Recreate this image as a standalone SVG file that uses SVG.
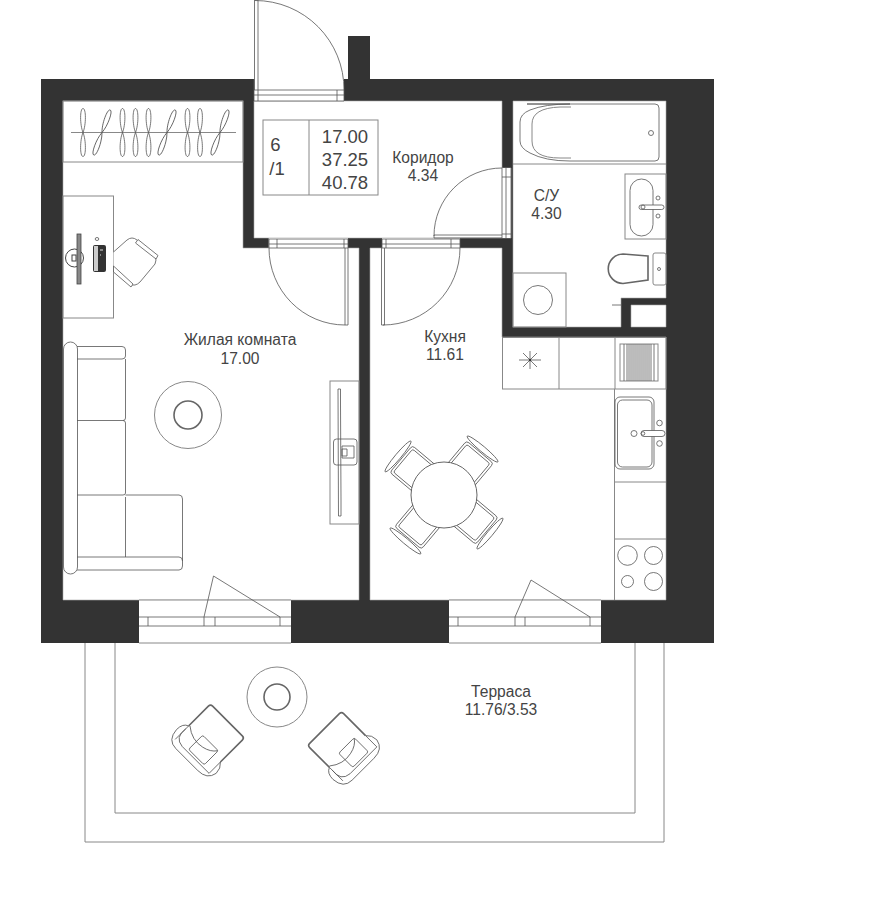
<svg xmlns="http://www.w3.org/2000/svg" width="883" height="900" viewBox="0 0 883 900">
<style>
text{font-family:"Liberation Sans",Arial,sans-serif;fill:#444;text-anchor:middle}
.l{font-size:15.6px}
.n{font-size:18.500px}
.s{fill:none;stroke:#555;stroke-width:.8}
.g{fill:none;stroke:#888;stroke-width:1}
.f{fill:#fff;stroke:#555;stroke-width:.8}
.fg{fill:#fff;stroke:#777;stroke-width:1}
.t{fill:none;stroke:#666;stroke-width:1.6}
</style>
<defs>
<g id="hanger"><path class="s" d="M0 0C-3.200-8-3.200-24 0-24C3.200-24 3.200-8 0 0C-3.200 8-3.200 24 0 24C3.200 24 3.200 8 0 0Z"/></g>
<g id="dchair">
<ellipse class="f" cx="0" cy="-60" rx="20" ry="2.800"/>
<rect class="f" x="-17.500" y="-56" width="35" height="34" rx="3"/>
<rect class="f" x="-15" y="-53.500" width="30" height="32" rx="2"/>
</g>
<g id="tchair">
<path class="s" d="M-24 7Q-30 9-30 18Q-29 32-17 32L14 32Q27 32 29 21Q29 14 24 10"/>
<path class="s" d="M-24 11Q-26 25-14 26L24 26"/>
<path class="t" d="M-24 7L-24-21Q-24-24-21-24L21-24Q24-24 24-21L24 10"/>
<path class="s" d="M-24 7L-24 26M24 10L24 26"/>
<rect class="f" x="-7.500" y="3.500" width="22" height="20" rx="2"/>
<path class="s" d="M-23 6Q-12 15 1 12Q10 10 14 4"/>
</g>
</defs>
<g id="walls">
<rect x="41" y="79" width="673" height="564" fill="#333"/>
<rect x="348" y="36" width="22" height="44" fill="#333"/>
<path d="M63 101H243V248H269V238H254V101H502V168H511V238H269V248H359V600H63Z M370 248H502V337H666V600H370Z M513 101H666V298H621V327H513Z M631 305H666V327H631Z" fill="#fff" stroke="#aaa" stroke-width=".6"/>
<rect x="254" y="79" width="90" height="22" fill="#fff"/>
<rect x="269" y="238" width="79" height="11" fill="#fff"/>
<rect x="382" y="238" width="78" height="11" fill="#fff"/>
<rect x="502" y="168" width="9" height="70" fill="#fff"/>
<rect x="139" y="600" width="152" height="43" fill="#fff"/>
<rect x="449" y="600" width="152" height="43" fill="#fff"/>
<path d="M139 600H291M139 643H291M449 600H601M449 643H601" class="g"/>
</g>
<g id="door-main">
<path class="s" d="M254 90H344M254 95H344M254 101H344M254 79V101M258 90V101M337 90V101M344 90V101"/>
<path class="s" d="M254.500 0H258V90M254.500 0V90"/>
<path class="s" d="M255 .5A89 89 0 0 1 344 90"/>
</g>
<g id="door-room">
<path class="s" d="M269 239H348M269 244H348M269 248H348M269 239V248M277 239V248M344 239V248M348 239V248"/>
<path class="s" d="M345 248V325H348V248"/>
<path class="s" d="M345 325A76 77 0 0 1 269 248"/>
</g>
<g id="door-kitchen">
<path class="s" d="M382 239H460M382 244H460M382 248H460M382 239V248M386 239V248M451 239V248M460 239V248"/>
<path class="s" d="M381.500 248V325H384.500V248"/>
<path class="s" d="M383 325A77 77 0 0 0 460 248"/>
</g>
<g id="door-bath">
<path class="s" d="M502 168V238M506 168V238M511 168V238M502 177H511M502 234H511"/>
<path class="s" d="M434 235H502M434 238H502M434 235V238"/>
<path class="s" d="M434 236A68 68 0 0 1 502 168"/>
</g>
<g id="window-living">
<path class="s" d="M139 617H291M139 626H291M148 617V626M204 617V626M215 617V626M280 617V626"/>
<path class="s" d="M204 617L213.500 576L280 617"/>
</g>
<g id="window-kitchen">
<path class="s" d="M449 617H601M449 626H601M458 617V626M515 617V626M525 617V626M590 617V626"/>
<path class="s" d="M515 617L531 580L590 617"/>
</g>
<g id="terrace">
<path class="g" d="M85 643V842H664V643M115 643V813H635V643"/>
<text class="l" x="501" y="697">Терраса</text>
<text class="l" x="501" y="715">11.76/3.53</text>
<circle class="g" cx="277" cy="697" r="30"/>
<circle class="t" cx="277" cy="697" r="13"/>
<use href="#tchair" transform="translate(210.500 738) rotate(45)"/>
<use href="#tchair" transform="translate(341.500 745.500) rotate(-45)"/>
</g>
<g id="wardrobe">
<rect class="g" x="63" y="101" width="180" height="61"/>
<path d="M71 132.500H236" stroke="#888" fill="none"/>
<use href="#hanger" x="83" y="132.500"/>
<use href="#hanger" transform="translate(102 132.500) rotate(20)"/>
<use href="#hanger" x="122.500" y="132.500"/>
<use href="#hanger" x="135.500" y="132.500"/>
<use href="#hanger" x="148.500" y="132.500"/>
<use href="#hanger" transform="translate(167 132.500) rotate(20)"/>
<use href="#hanger" x="187.500" y="132.500"/>
<use href="#hanger" x="200" y="132.500"/>
<use href="#hanger" transform="translate(220 132.500) rotate(20)"/>
</g>
<g id="desk">
<rect class="g" x="63" y="196" width="50.500" height="122"/>
<circle cx="74.500" cy="258" r="9" fill="#fff" stroke="#444" stroke-width="1"/>
<rect x="72" y="255" width="4" height="6" fill="#fff" stroke="#444" stroke-width="1"/>
<rect x="77" y="234" width="4" height="50" fill="#888" stroke="#444" stroke-width=".8"/>
<ellipse class="s" cx="97" cy="239" rx="1.800" ry="1.500"/>
<rect x="93" y="245" width="13" height="27" rx="2" fill="#333"/>
<rect x="94" y="246" width="4" height="25" fill="#ccc"/>
<path d="M100 250h3M100 255h1" stroke="#ddd"/>
<path class="f" d="M113.500 252L127 240Q132 236 137 240L155 256Q157 260 155 264L140 282Q135 287 130 284L113.500 270"/>
<path class="f" d="M138 239.500L158 255.500L156 259L135.500 243Z"/>
<path class="f" d="M113.500 266L133 284L131 287L113.500 272Z"/>
</g>
<g id="sofa">
<rect class="fg" x="63.500" y="342" width="14" height="232" rx="7"/>
<path class="s" d="M77 346.500H122Q125.500 346.500 125.500 350V356Q125.500 359 122 359H77"/>
<path class="s" d="M77 420.500H123Q125.500 420.500 125.500 423V493Q125.500 495 123 495H77"/>
<path class="s" d="M125.500 359V418Q125.500 420.500 123 420.500"/>
<path class="s" d="M125.500 497V557M125.500 495H179Q182.500 495 182.500 499V566Q182.500 570 179 570H77M77 557H179Q182.500 557 182.500 561"/>
</g>
<g id="living-table">
<circle class="g" cx="188" cy="415" r="33.500"/>
<circle class="t" cx="188" cy="415" r="14"/>
</g>
<g id="tv">
<rect class="g" x="330" y="381" width="29" height="143"/>
<path class="s" d="M338 389H340.500V405L341 500V516H338.500Z"/>
<rect class="s" x="333.500" y="439" width="23.500" height="26" rx="3"/>
<path class="s" d="M342 446H354V458H342ZM342 449H347V456H342Z"/>
</g>
<g id="info">
<rect class="g" x="263" y="120" width="115" height="75"/>
<path class="g" d="M309 120V195"/>
<text class="n" x="275.500" y="151">6</text>
<text class="n" x="277" y="175">/1</text>
<text class="n" x="345" y="143">17.00</text>
<text class="n" x="345" y="166">37.25</text>
<text class="n" x="345" y="189">40.78</text>
</g>
<g id="labels">
<text class="l" x="423" y="163">Коридор</text>
<text class="l" x="423" y="181">4.34</text>
<text class="l" x="546.500" y="200.500">С/У</text>
<text class="l" x="546.500" y="219">4.30</text>
<text class="l" x="445" y="342">Кухня</text>
<text class="l" x="445" y="360">11.61</text>
<text class="l" x="240" y="345">Жилая комната</text>
<text class="l" x="240" y="364">17.00</text>
</g>
<g id="bath">
<path class="g" d="M513 164H666"/>
<path class="s" d="M527 104H655Q659 104 659 108V157Q659 161 655 161H570Q545 161 530 153Q520 148 520 141V122Q520 114 530 110Q545 104 570 104Z"/>
<path class="g" d="M571 107H560Q532 108 532 124V141Q532 158 560 158H571"/>
<circle class="s" cx="651" cy="133" r="2.500"/>
</g>
<g id="bath-sink">
<rect class="g" x="625" y="174" width="41" height="65"/>
<rect class="s" x="630" y="179" width="23" height="57" rx="11.500"/>
<rect class="f" x="639" y="205" width="25" height="4.500" rx="2.200"/>
<circle class="s" cx="643" cy="207" r="2"/>
<circle class="s" cx="658" cy="198" r="2"/>
<circle class="s" cx="658" cy="216" r="2"/>
</g>
<g id="toilet">
<rect class="g" x="653" y="253" width="13" height="32" rx="2"/>
<path class="t" d="M648 256L623 254A14.500 14.500 0 0 0 623 283.500L648 280Z"/>
<circle class="s" cx="659" cy="269" r="1.500"/>
</g>
<g id="washer">
<rect class="g" x="513" y="273" width="53" height="54"/>
<circle class="s" cx="538" cy="300" r="14.500"/>
<path class="s" d="M612 305H621"/>
</g>
<g id="kitchen-top">
<rect class="g" x="502.500" y="337.500" width="163.500" height="51.500"/>
<path class="g" d="M559 337V389M615 337V389"/>
<path class="s" d="M530 351V369M519 360H541M523 353L537 367M523 367L537 353"/>
<circle cx="530" cy="360" r="1.200" fill="#333"/>
<rect class="g" x="620" y="344" width="38" height="37"/>
<path d="M624 344V381M627 344V381M629 344V381M631 344V381M633 344V381M635 344V381M637 344V381M639 344V381M641 344V381M643 344V381M645 344V381M647 344V381M649 344V381M651 344V381M654 344V381" stroke="#555" stroke-width=".8" fill="none"/>
</g>
<g id="kitchen-counter">
<path class="g" d="M614.500 389V600M614.500 482H666M614.500 539H666"/>
<rect class="s" x="615" y="397" width="39" height="72" rx="5"/>
<rect class="s" x="617.500" y="400" width="34.500" height="67" rx="5"/>
<circle class="s" cx="634" cy="433.500" r="3"/>
<rect class="f" x="641" y="430.500" width="24" height="6" rx="3"/>
<circle class="s" cx="643" cy="433.500" r="1.800"/>
<circle class="s" cx="659.500" cy="423" r="2.800"/>
<circle class="s" cx="659.500" cy="443.500" r="2.800"/>
<circle class="s" cx="627.500" cy="555.500" r="9.800"/>
<circle class="s" cx="653.500" cy="555.500" r="9"/>
<circle class="s" cx="627.500" cy="581.500" r="6"/>
<circle class="s" cx="653.500" cy="581.500" r="9"/>
</g>
<g id="dining">
<use href="#dchair" transform="translate(444 495) rotate(40)"/>
<use href="#dchair" transform="translate(444 495) rotate(130)"/>
<use href="#dchair" transform="translate(444 495) rotate(220)"/>
<use href="#dchair" transform="translate(444 495) rotate(310)"/>
<circle cx="444" cy="495" r="33" fill="#fff" stroke="#555" stroke-width=".9"/>
</g>
</svg>
